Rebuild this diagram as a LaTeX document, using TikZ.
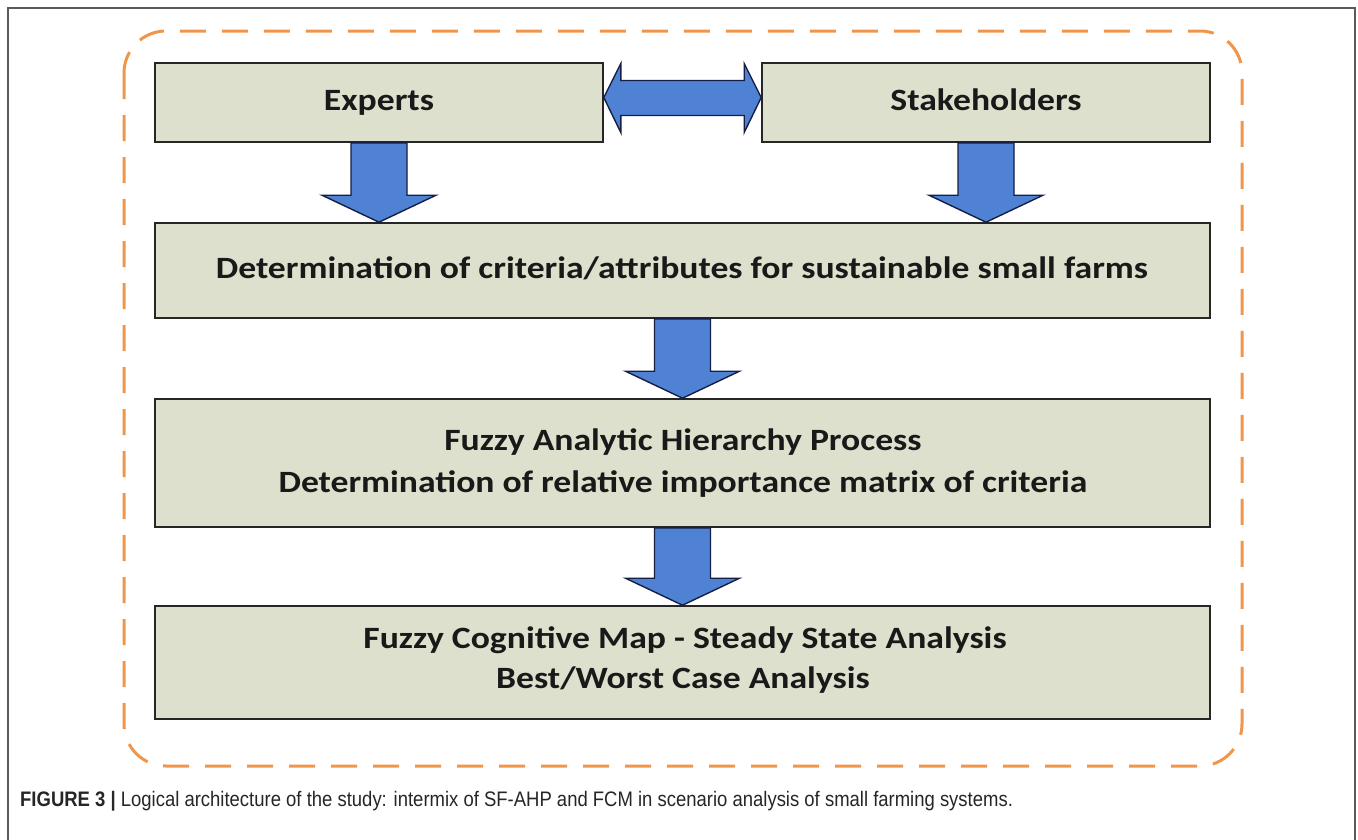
\documentclass[tikz,border=0pt]{standalone}
\usepackage{fontspec}
\setmainfont[FakeStretch=1.15]{Carlito}
\newfontfamily\capfont[FakeStretch=0.88]{Liberation Sans}
\usetikzlibrary{calc}
\definecolor{boxfill}{RGB}{220,224,204}
\definecolor{arrowblue}{RGB}{80,130,212}
\definecolor{arrowline}{RGB}{20,30,70}
\definecolor{dashorange}{RGB}{240,150,75}
\definecolor{framegray}{RGB}{90,90,90}
\tikzset{
  stagebox/.style={draw=black!85, line width=1.6pt, fill=boxfill, rectangle, inner sep=0pt},
  lbl/.style={font=\bfseries\fontsize{31}{36}\selectfont, text=black!90, anchor=base, inner sep=0pt},
  blockarrow/.style={draw=arrowline, line width=1.4pt, fill=arrowblue, line join=miter},
  outerdash/.style={draw=dashorange, line width=3pt, dash pattern=on 26pt off 16pt, rounded corners=42pt},
  capstyle/.style={anchor=base west, inner sep=0pt, font=\capfont\fontsize{21}{24}\selectfont, text=black!85}
}
\newcommand\blockdown[2]{%
  \path let \p1=(#1.south), \p2=(#1.south |- #2.north) in
    [blockarrow] (\x1-28pt,\y1) -- (\x1+28pt,\y1) -- (\x1+28pt,\y2+27pt) -- (\x1+57pt,\y2+27pt)
    -- (\x1,\y2) -- (\x1-57pt,\y2+27pt) -- (\x1-28pt,\y2+27pt) -- cycle;}
\begin{document}
\begin{tikzpicture}[x=1pt,y=-1pt]
\useasboundingbox (0,0) rectangle (1358,839);
% outer frame
\draw[framegray, line width=1.3pt] (8,845) -- (8,8) -- (1355,8) -- (1355,845);
% dashed rounded container
\draw[outerdash] (124,31) rectangle (1242,766);
% boxes
\node[stagebox, minimum width=448pt, minimum height=79pt] (exp) at (379,102.5) {};
\node[stagebox, minimum width=448pt, minimum height=79pt] (stk) at (986,102.5) {};
\node[stagebox, minimum width=1055pt, minimum height=95pt] (crit) at (682.5,270.5) {};
\node[stagebox, minimum width=1055pt, minimum height=128pt] (fahp) at (682.5,463) {};
\node[stagebox, minimum width=1055pt, minimum height=113pt] (fcm) at (682.5,662.5) {};
% labels
\node[lbl] (expT) at (379,110) {Experts};
\node[lbl] (stkT) at (986,110) {Stakeholders};
\node[lbl] (critT) at (682,278) {Determination of criteria/attributes for sustainable small farms};
\node[lbl] (fahpT1) at (683,450) {Fuzzy Analytic Hierarchy Process};
\node[lbl] (fahpT2) at (683,492) {Determination of relative importance matrix of criteria};
\node[lbl] (fcmT1) at (685,648) {Fuzzy Cognitive Map - Steady State Analysis};
\node[lbl] (fcmT2) at (683,688) {Best/Worst Case Analysis};
% double arrow
\path let \p1=(exp.east), \p2=(stk.west) in
  [blockarrow] (\x1,\y1+5pt) -- (\x1+17pt,\y1+39pt) -- (\x1+17pt,\y1+22pt) -- (\x2-17pt,\y1+22pt)
  -- (\x2-17pt,\y1+39pt) -- (\x2,\y1+5pt) -- (\x2-17pt,\y1-30pt) -- (\x2-17pt,\y1-13pt)
  -- (\x1+17pt,\y1-13pt) -- (\x1+17pt,\y1-30pt) -- cycle;
% down arrows
\blockdown{exp}{crit}
\blockdown{stk}{crit}
\blockdown{crit}{fahp}
\blockdown{fahp}{fcm}
% caption
\node[capstyle] (cap) at (20,806) {\textbf{FIGURE 3 |} Logical architecture of the study: intermix of SF-AHP and FCM in scenario analysis of small farming systems.};
\end{tikzpicture}
\end{document}
